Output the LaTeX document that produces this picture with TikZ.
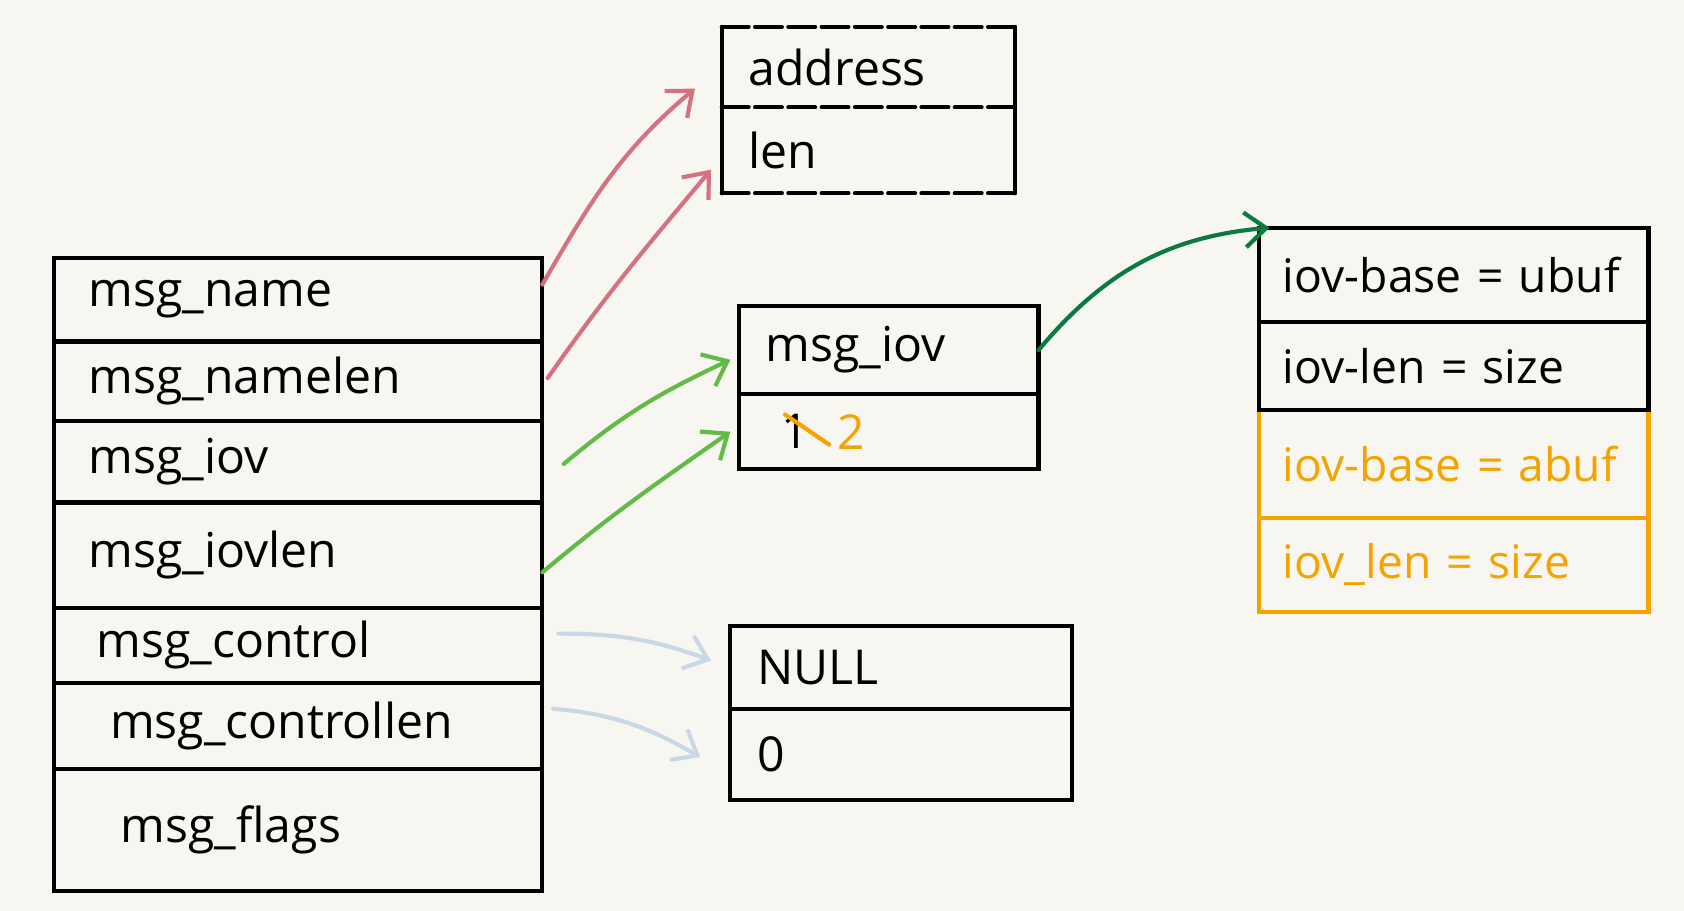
\documentclass[tikz,border=0pt]{standalone}
\usepackage{fontspec}
\usetikzlibrary{positioning,arrows.meta}
\newfontfamily\hand{Open Sans}

\definecolor{paper}{HTML}{F7F6F1}
\definecolor{rosy}{HTML}{D4737F}
\definecolor{leaf}{HTML}{62BB46}
\definecolor{forest}{HTML}{0B7A3E}
\definecolor{mist}{HTML}{C8D8E6}
\definecolor{amber}{HTML}{F5A300}

\tikzset{
  cell/.style={outer sep=0pt, inner xsep=0.5cm, inner ysep=0.05cm, text width=#1, align=left, font=\hand\fontsize{25.5}{30}\selectfont},
  vecrow/.style={cell=6.36cm, inner xsep=0.45cm, font=\hand\fontsize{24.5}{29}\selectfont},
  boxline/.style={draw, line width=2.2pt, line cap=round},
  dashrule/.style={dash pattern=on 0.5cm off 0.12cm},
  link/.style={line width=2.2pt, line cap=round, -{Straight Barb[length=4mm,width=6.5mm]}},
}

\begin{document}
\begin{tikzpicture}[x=0.02cm,y=0.02cm]

\useasboundingbox (0,0) rectangle (1568,848);
\fill[paper] (0,0) rectangle (1568,848);

%%% struct msghdr
\node[cell=7.8cm, inner xsep=0.65cm, boxline, minimum height=1.56cm] (name) at (277.5,569) {msg\_name};
\node[cell=7.8cm, inner xsep=0.65cm, boxline, minimum height=1.48cm, below=0pt of name] (namelen) {msg\_namelen};
\node[cell=7.8cm, inner xsep=0.65cm, boxline, minimum height=1.52cm, below=0pt of namelen] (iov) {msg\_iov};
\node[cell=7.8cm, inner xsep=0.65cm, boxline, minimum height=1.96cm, below=0pt of iov] (iovlen) {msg\_iovlen};
\node[cell=7.8cm, inner xsep=0.65cm, boxline, minimum height=1.4cm, below=0pt of iovlen] (control) {\hspace*{0.15cm}msg\_control};
\node[cell=7.8cm, inner xsep=0.65cm, boxline, minimum height=1.6cm, below=0pt of control] (controllen) {\hspace*{0.4cm}msg\_controllen};
\node[cell=7.8cm, inner xsep=0.65cm, boxline, minimum height=2.28cm, below=0pt of controllen] (flags) {\hspace*{0.6cm}msg\_flags};

%%% address
\node[cell=4.46cm, minimum height=1.5cm] (addr) at (808.5,785.5) {address};
\node[cell=4.46cm, minimum height=1.6cm, below=0pt of addr] (len) {len};
\draw[boxline] (addr.north west) -- (len.south west);
\draw[boxline] (addr.north east) -- (len.south east);
\draw[boxline, dashrule] (addr.north west) -- (addr.north east);
\draw[boxline, dashrule] (addr.south west) -- (addr.south east);
\draw[boxline, dashrule] (len.south west) -- (len.south east);

%%% iov pointer and count
\node[cell=4.58cm, boxline, minimum height=1.64cm] (iovptr) at (827.5,522) {msg\_iov};
\node[cell=4.58cm, boxline, minimum height=1.4cm, below=0pt of iovptr] (iovcnt) {};
\node[font=\hand\fontsize{25.5}{30}\selectfont, inner sep=0pt] (one) at ([xshift=1.04cm]iovcnt.west) {1};
\node[font=\hand\fontsize{25.5}{30}\selectfont, inner sep=0pt, text=amber] (two) at ([xshift=2.1cm]iovcnt.west) {2};
\draw[amber, line width=2.2pt, line cap=round] ([xshift=-0.18cm,yshift=0.32cm]one.center) -- ([xshift=0.64cm,yshift=-0.24cm]one.center);

%%% control
\node[cell=5.36cm, boxline, minimum height=1.54cm] (ctl) at (839,226.5) {NULL};
\node[cell=5.36cm, boxline, minimum height=1.7cm, below=0pt of ctl] (ctllen) {0};

%%% iovec array
\node[vecrow, boxline, draw=amber, text=amber, minimum height=2.0cm] (base2) at (1353.5,416) {iov-base = abuf};
\node[vecrow, boxline, draw=amber, text=amber, minimum height=1.76cm, below=0pt of base2] (len2) {iov\_len = size};
\node[vecrow, boxline, minimum height=1.64cm, above=0pt of base2] (len1) {iov-len = size};
\node[vecrow, boxline, minimum height=1.76cm, above=0pt of len1] (base1) {iov-base = ubuf};

%%% arrows
\draw[link, rosy] ([yshift=0.28cm]name.east) to[out=60,in=220] ([xshift=-0.5cm,yshift=-0.4cm]addr.west);
\draw[link, rosy] ([xshift=0.1cm,yshift=0.06cm]namelen.east) to[out=55,in=230] ([xshift=-0.2cm,yshift=-0.36cm]len.west);
\draw[link, leaf] ([xshift=0.4cm,yshift=-0.04cm]iov.east) to[out=40,in=205] ([xshift=-0.16cm,yshift=-0.18cm]iovptr.west);
\draw[link, leaf] ([yshift=-0.32cm]iovlen.east) to[out=40,in=215] ([xshift=-0.16cm]iovcnt.west);
\draw[link, forest] (iovptr.east) to[out=50,in=185] ([xshift=0.2cm]base1.north west);
\draw[link, mist] ([xshift=0.3cm,yshift=0.22cm]control.east) to[out=0,in=160] ([xshift=-0.36cm,yshift=0.13cm]ctl.west);
\draw[link, mist] ([xshift=0.2cm,yshift=0.32cm]controllen.east) to[out=-5,in=150] ([xshift=-0.56cm,yshift=-0.05cm]ctllen.west);

\end{tikzpicture}
\end{document}
